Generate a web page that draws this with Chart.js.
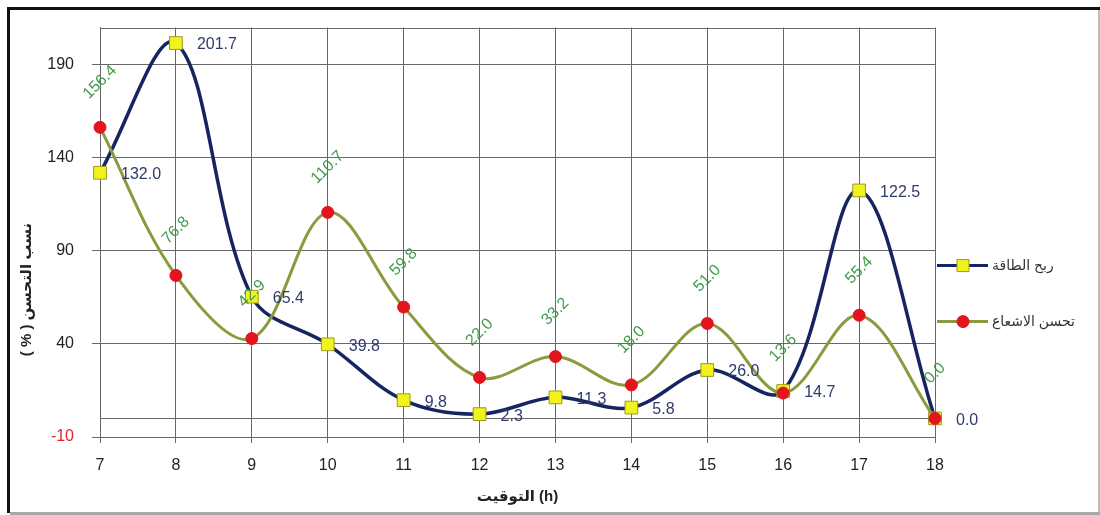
<!DOCTYPE html>
<html>
<head>
<meta charset="utf-8">
<script src="https://cdn.jsdelivr.net/npm/chart.js@4.4.1/dist/chart.umd.min.js"></script>
<style>
  html, body { margin: 0; padding: 0; background: #fff; }
  #wrap { width: 1100px; height: 515px; position: relative; }
</style>
</head>
<body>
<div id="wrap"><canvas id="c" width="1100" height="515"></canvas></div>
<script>
// Hours of the day (x axis)
const hours = ['7', '8', '9', '10', '11', '12', '13', '14', '15', '16', '17', '18'];
// Energy gain (%)
const energyGain = [132.0, 201.7, 65.4, 39.8, 9.8, 2.3, 11.3, 5.8, 26.0, 14.7, 122.5, 0.0];
// Radiation improvement (%)
const radiationGain = [156.4, 76.8, 42.9, 110.7, 59.8, 22.0, 33.2, 18.0, 51.0, 13.6, 55.4, 0.0];
// Y axis ticks
const yTicks = [-10, 40, 90, 140, 190];
const yMin = -10, yMax = 210;

const seriesNames = ['ربح الطاقة', 'تحسن الاشعاع'];
const yTitle = 'نسب التحسن ( % )';
const xTitle = 'التوقيت (h)';

const FONT = "'Liberation Sans', Arial, 'DejaVu Sans', sans-serif";
const BLUE = '#16245f';
const OLIVE = '#8a9a3e';
const GRID = '#686868';

// White background and frame around the figure
const framePlugin = {
  id: 'frame',
  beforeDraw(chart) {
    const ctx = chart.ctx;
    ctx.save();
    ctx.fillStyle = '#fff';
    ctx.fillRect(0, 0, chart.width, chart.height);
    ctx.fillStyle = '#111';
    ctx.fillRect(7, 7, chart.width - 7, 3);
    ctx.fillRect(7, 7, 3, chart.height - 9);
    ctx.fillStyle = '#bdbdbd';
    ctx.fillRect(chart.width - 2, 10, 2, chart.height - 10);
    ctx.fillStyle = '#a8a8a8';
    ctx.fillRect(10, chart.height - 3, chart.width - 10, 3);
    ctx.restore();
  }
};

// Plot border, zero line, value labels, y title and legend
const decorPlugin = {
  id: 'decor',
  beforeDatasetsDraw(chart) {
    const {ctx, chartArea: a, scales} = chart;
    ctx.save();
    ctx.strokeStyle = GRID;
    ctx.lineWidth = 1;
    ctx.beginPath();
    const z = Math.round(scales.y.getPixelForValue(0)) + 0.5;
    ctx.moveTo(a.left, z); ctx.lineTo(a.right, z);
    const t = Math.round(a.top) + 0.5;
    ctx.moveTo(a.left, t); ctx.lineTo(a.right, t);
    ctx.stroke();
    ctx.restore();
  },
  afterDraw(chart) {
    const {ctx, chartArea: a} = chart;
    ctx.save();
    // value labels for energy gain: right of each point
    const m0 = chart.getDatasetMeta(0);
    ctx.font = '16px ' + FONT;
    ctx.fillStyle = '#2e3a6c';
    ctx.textAlign = 'left';
    ctx.textBaseline = 'middle';
    m0.data.forEach((pt, i) => {
      ctx.fillText(energyGain[i].toFixed(1), pt.x + 21, pt.y + 2);
    });
    // value labels for radiation improvement: rotated, above each point
    const m1 = chart.getDatasetMeta(1);
    ctx.fillStyle = '#3f9a48';
    ctx.textAlign = 'center';
    m1.data.forEach((pt, i) => {
      ctx.save();
      ctx.translate(pt.x, pt.y - 45);
      ctx.rotate(-Math.PI / 4);
      ctx.fillText(radiationGain[i].toFixed(1), 0, 0);
      ctx.restore();
    });
    // y axis title
    ctx.save();
    ctx.translate(27, a.top + 262);
    ctx.rotate(-Math.PI / 2);
    ctx.font = 'bold 15px ' + FONT;
    ctx.fillStyle = '#222';
    ctx.textAlign = 'center';
    ctx.textBaseline = 'middle';
    ctx.direction = 'rtl';
    ctx.fillText(yTitle, 0, 0);
    ctx.restore();
    // legend
    const lx = a.right + 2;
    const items = [
      {y: a.top + 238, color: BLUE, style: 'rect', fill: '#f2f21c', border: '#9a9a20', r: 6},
      {y: a.top + 294, color: OLIVE, style: 'circle', fill: '#e3141c', border: '#e3141c', r: 6}
    ];
    items.forEach((it, k) => {
      ctx.strokeStyle = it.color;
      ctx.lineWidth = 3;
      ctx.beginPath();
      ctx.moveTo(lx, it.y); ctx.lineTo(lx + 51, it.y);
      ctx.stroke();
      ctx.fillStyle = it.fill;
      ctx.strokeStyle = it.border;
      ctx.lineWidth = 1;
      ctx.beginPath();
      if (it.style === 'rect') {
        ctx.rect(lx + 26 - it.r, it.y - it.r, it.r * 2, it.r * 2);
      } else {
        ctx.arc(lx + 26, it.y, it.r, 0, Math.PI * 2);
      }
      ctx.fill(); ctx.stroke();
      ctx.fillStyle = '#333';
      ctx.font = '14px ' + FONT;
      ctx.textAlign = 'left';
      ctx.textBaseline = 'middle';
      ctx.fillText(seriesNames[k], lx + 55, it.y + 1);
    });
    ctx.restore();
  }
};

new Chart(document.getElementById('c'), {
  type: 'line',
  data: {
    labels: hours,
    datasets: [
      {
        label: seriesNames[0],
        data: energyGain,
        borderColor: BLUE,
        borderWidth: 3.5,
        tension: 0.35,
        pointStyle: 'rect',
        pointRadius: 9,
        pointBackgroundColor: '#f2f21c',
        pointBorderColor: '#9a9a20',
        pointBorderWidth: 1,
        clip: false,
        order: 1
      },
      {
        label: seriesNames[1],
        data: radiationGain,
        borderColor: OLIVE,
        borderWidth: 3,
        tension: 0.35,
        pointStyle: 'circle',
        pointRadius: 6,
        pointBackgroundColor: '#e3141c',
        pointBorderColor: '#e3141c',
        pointBorderWidth: 1,
        clip: false,
        order: 0
      }
    ]
  },
  options: {
    responsive: false,
    animation: false,
    events: [],
    layout: { padding: { left: 10, top: 24, right: 165, bottom: 0 } },
    plugins: { legend: { display: false }, tooltip: { enabled: false } },
    scales: {
      x: {
        type: 'category',
        offset: false,
        grid: { color: GRID, lineWidth: 1, offset: false, tickLength: 6, drawTicks: true },
        border: { color: GRID },
        ticks: { color: '#222', font: { family: FONT, size: 16 }, padding: 13, maxRotation: 0, autoSkip: false },
        title: { display: true, text: xTitle, color: '#222', font: { family: FONT, size: 15, weight: 'bold' }, padding: { top: 0, bottom: 9 } },
        afterFit(s) { s.height = 78; }
      },
      y: {
        min: yMin,
        max: yMax,
        grid: { color: GRID, lineWidth: 1, tickLength: 8 },
        border: { color: GRID },
        afterBuildTicks(s) { s.ticks = yTicks.map(v => ({ value: v })); },
        ticks: {
          font: { family: FONT, size: 16 },
          padding: 18,
          color: (c) => (c.tick && c.tick.value < 0 ? '#e0242a' : '#222')
        },
        afterFit(s) { s.width = 90; }
      }
    }
  },
  plugins: [framePlugin, decorPlugin]
});
</script>
</body>
</html>
